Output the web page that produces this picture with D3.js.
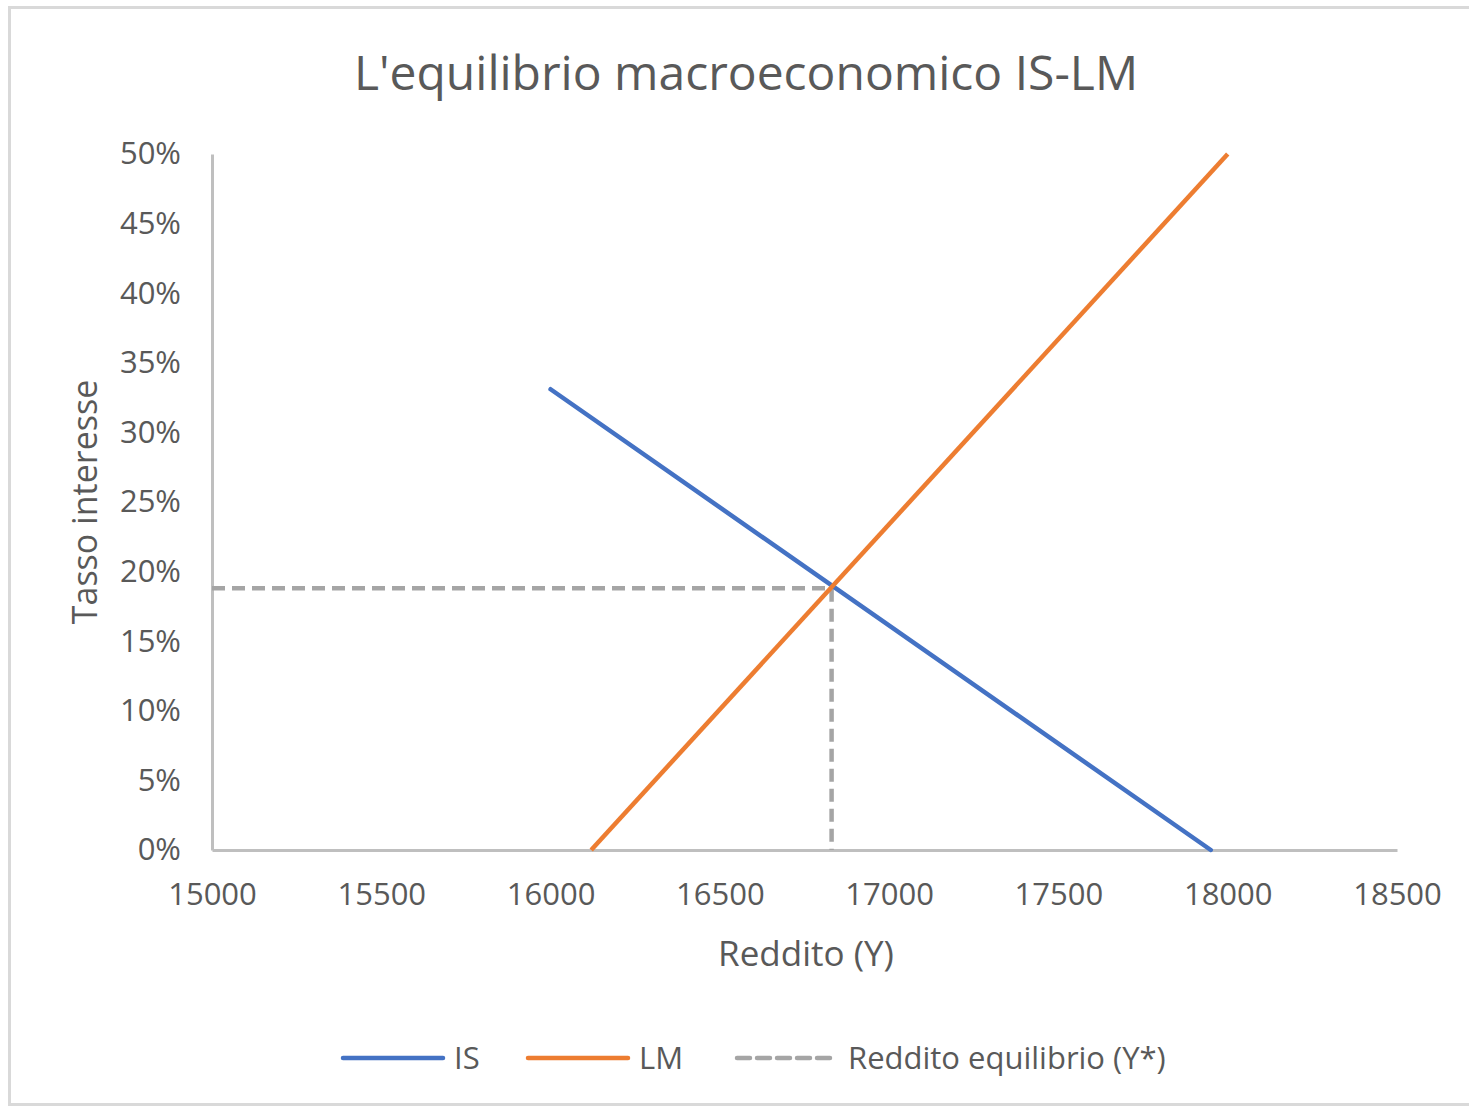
<!DOCTYPE html>
<html><head><meta charset="utf-8">
<script src="https://cdn.jsdelivr.net/npm/d3@7"></script>
<style>
html,body{margin:0;padding:0;background:#fff;}
svg{display:block;}
text{font-family:"Open Sans","Noto Sans",sans-serif;fill:#595959;}
</style></head>
<body>
<svg id="chart" width="1469" height="1109"></svg>
<script>
// ---- data ----
const xTicks = [15000,15500,16000,16500,17000,17500,18000,18500];
const yTicks = [0,0.05,0.10,0.15,0.20,0.25,0.30,0.35,0.40,0.45,0.50];
const isIncome = [16000, 17950];
const isRate   = [0.331, 0.0];
const lmIncome = [16120, 18000];
const lmRate   = [0.0, 0.50];
const eqIncome = [15000, 16830, 16830];
const eqRate   = [0.188, 0.188, 0.0];
const seriesNames = ["IS","LM","Reddito equilibrio (Y*)"];
const title = "L'equilibrio macroeconomico IS-LM";
const xTitle = "Reddito (Y)";
const yTitle = "Tasso interesse";

const colors = {IS:"#4472C4", LM:"#ED7D31", EQ:"#A5A5A5"};

const svg = d3.select("#chart");
// frame
svg.append("rect").attr("x",9.5).attr("y",7.5).attr("width",1470).attr("height",1097)
  .attr("fill","#fff").attr("stroke","#d9d9d9").attr("stroke-width",3);

const L=212, R=1397, T=154, B=850;
const x = d3.scaleLinear().domain([15000,18500]).range([L,R]);
const y = d3.scaleLinear().domain([0,0.5]).range([B,T]);

svg.append("text").attr("x",746).attr("y",90).attr("text-anchor","middle")
  .style("font-size","48px").text(title);

// axes
const xAxis = svg.append("g").attr("transform",`translate(0,${B})`)
  .call(d3.axisBottom(x).tickValues(xTicks).tickSize(0).tickPadding(33).tickFormat(d3.format("d")));
xAxis.select(".domain").attr("stroke","#BFBFBF").attr("stroke-width",3);
xAxis.selectAll("text").style("font-size","31px").style("font-family","'Open Sans'").attr("fill","#595959");

const yAxis = svg.append("g").attr("transform",`translate(${L},0)`)
  .call(d3.axisLeft(y).tickValues(yTicks).tickSize(0).tickPadding(31).tickFormat(d3.format(".0%")));
yAxis.select(".domain").attr("stroke","#BFBFBF").attr("stroke-width",3);
yAxis.selectAll("text").style("font-size","31px").style("font-family","'Open Sans'").attr("fill","#595959");

svg.append("text").attr("x",806).attr("y",966).attr("text-anchor","middle")
  .style("font-size","35px").text(xTitle);
svg.append("text").attr("transform","translate(97,502) rotate(-90)").attr("text-anchor","middle")
  .style("font-size","34px").text(yTitle);

const line = d3.line().x(d=>x(d[0])).y(d=>y(d[1]));

svg.append("path").datum(d3.zip(eqIncome,eqRate)).attr("d",line)
  .attr("fill","none").attr("stroke",colors.EQ).attr("stroke-width",4.5).attr("stroke-dasharray","13,7");
svg.append("path").datum(d3.zip(isIncome,isRate)).attr("d",line)
  .attr("fill","none").attr("stroke",colors.IS).attr("stroke-width",4.5).attr("stroke-linecap","round");
svg.append("path").datum(d3.zip(lmIncome,lmRate)).attr("d",line)
  .attr("fill","none").attr("stroke",colors.LM).attr("stroke-width",4.5);

// legend
const leg = [
  {name:seriesNames[0], c:colors.IS, dash:null, x0:343},
  {name:seriesNames[1], c:colors.LM, dash:null, x0:528},
  {name:seriesNames[2], c:colors.EQ, dash:"13,7", x0:737}
];
const lg = svg.append("g");
leg.forEach(d=>{
  lg.append("line").attr("x1",d.x0).attr("x2",d.x0+100).attr("y1",1058).attr("y2",1058)
    .attr("stroke",d.c).attr("stroke-width",4.5).attr("stroke-linecap","round")
    .attr("stroke-dasharray",d.dash);
  lg.append("text").attr("x",d.x0+111).attr("y",1069).style("font-size","31px").text(d.name);
});
</script>
</body></html>
